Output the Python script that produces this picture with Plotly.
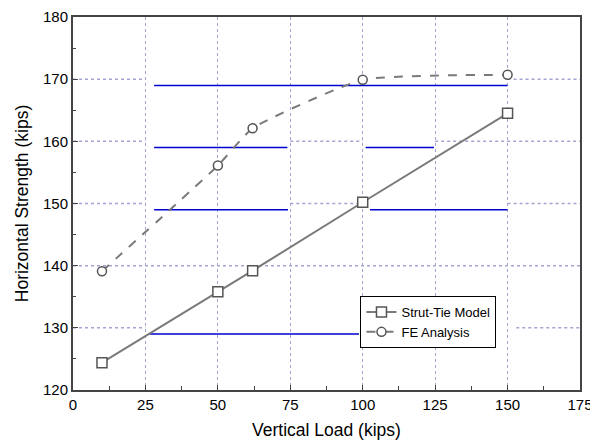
import plotly.graph_objects as go

# Data
vertical_load = [10, 50, 62, 100, 150]
strut_tie = [124.4, 135.8, 139.2, 150.2, 164.5]
fe_analysis = [139.1, 156.1, 162.1, 169.9, 170.7]

x_ticks = [0, 25, 50, 75, 100, 125, 150, 175]
y_ticks = [120, 130, 140, 150, 160, 170, 180]

# Solid blue segments present in the figure (y, x_start, x_end)
blue_y = [169, 159, 159, 149, 149, 129]
blue_x0 = [28, 28, 101, 28, 102.5, 26.3]
blue_x1 = [150, 74, 124.6, 74.2, 150, 98.7]

# Visible pieces of the dotted horizontal grid (y, x_start, x_end)
grid_y = [170, 170, 160, 160, 160, 150, 150, 150, 140, 130, 130]
grid_x0 = [0, 150, 0, 75, 125, 0, 75, 150, 0, 0, 153]
grid_x1 = [25, 175, 25, 100, 175, 25, 100, 175, 175, 25, 175]

grid_color = "#a4a4d4"
fig = go.Figure()

# horizontal dotted grid pieces
gx, gy = [], []
for y, a, b in zip(grid_y, grid_x0, grid_x1):
    gx += [a, b, None]
    gy += [y, y, None]
fig.add_trace(go.Scatter(x=gx, y=gy, mode="lines", showlegend=False, hoverinfo="skip",
                         line=dict(color=grid_color, width=1.5, dash="dot")))

# blue segments
bx, by = [], []
for y, a, b in zip(blue_y, blue_x0, blue_x1):
    bx += [a, b, None]
    by += [y, y, None]
fig.add_trace(go.Scatter(x=bx, y=by, mode="lines", showlegend=False, hoverinfo="skip",
                         line=dict(color="#0000d0", width=1.5)))

fig.add_trace(go.Scatter(
    x=vertical_load, y=strut_tie, mode="lines+markers", name="Strut-Tie Model",
    line=dict(color="#7a7a7a", width=2),
    marker=dict(symbol="square", size=10, color="white", line=dict(color="#555", width=1.5))))
fig.add_trace(go.Scatter(
    x=vertical_load, y=fe_analysis, mode="lines+markers", name="FE Analysis",
    line=dict(color="#7a7a7a", width=2, dash="dash", shape="spline", smoothing=0.45),
    marker=dict(symbol="circle", size=9, color="white", line=dict(color="#555", width=1.5))))

font = "Liberation Sans, Arial, sans-serif"
fig.update_layout(
    width=590, height=432,
    margin=dict(l=65, r=18, t=9, b=50, autoexpand=False),
    paper_bgcolor="white", plot_bgcolor="white",
    font=dict(family=font, size=15, color="black"),
    legend=dict(x=0.567, y=0.252, xanchor="left", yanchor="top",
                bgcolor="white", bordercolor="black", borderwidth=1,
                font=dict(size=13), tracegroupgap=0, itemwidth=30),
)
fig.update_xaxes(
    range=[0, 175], tickvals=x_ticks, showgrid=True, gridcolor=grid_color, griddash="dot",
    gridwidth=1.2, zeroline=False, automargin=False,
    showline=True, linecolor="#444", linewidth=2, mirror=True,
    ticks="inside", ticklen=5, tickcolor="#444",
    minor=dict(tickvals=[12.5, 37.5, 62.5, 87.5, 112.5, 137.5, 162.5], ticks="inside", ticklen=4, tickcolor="#444", showgrid=False),
    title=dict(text="Vertical Load (kips)", font=dict(size=17.5), standoff=13),
    tickfont=dict(size=15),
)
fig.update_yaxes(
    range=[120, 180], tickvals=y_ticks, showgrid=False, zeroline=False, automargin=False,
    showline=True, linecolor="#444", linewidth=2, mirror=True,
    ticks="inside", ticklen=5, tickcolor="#444",
    minor=dict(tickvals=[125, 135, 145, 155, 165, 175], ticks="inside", ticklen=3, tickcolor="#444"),
    title=dict(text="Horizontal Strength (kips)", font=dict(size=17.5), standoff=10),
    tickfont=dict(size=15),
)

fig.write_html("out.html")
